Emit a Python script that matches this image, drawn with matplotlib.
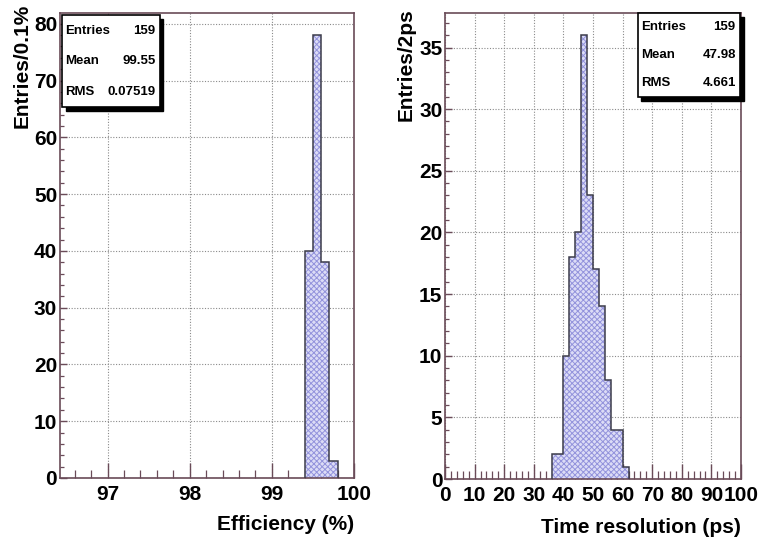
import matplotlib
matplotlib.use("Agg")
import matplotlib.pyplot as plt
from matplotlib.patches import Rectangle
from matplotlib.ticker import MultipleLocator

plt.rcParams['font.family'] = ['Liberation Sans', 'DejaVu Sans']
plt.rcParams['font.weight'] = 'bold'
plt.rcParams['hatch.linewidth'] = 0.7

# efficiency histogram, 0.1 % bins
eff_edges = [99.4, 99.5, 99.6, 99.7, 99.8]
eff_counts = [40, 78, 38, 3]
eff_stats = [("Entries", "159"), ("Mean", "99.55"), ("RMS", "0.07519")]

# time resolution histogram, 2 ps bins
tres_edges = [36, 38, 40, 42, 44, 46, 48, 50, 52, 54, 56, 58, 60, 62]
tres_counts = [2, 2, 10, 18, 20, 36, 23, 17, 14, 8, 4, 4, 1]
tres_stats = [("Entries", "159"), ("Mean", "47.98"), ("RMS", "4.661")]

frame_col = '#6a4b58'
grid_col = '#8a8a8a'
fill_col = '#dcdcf6'
hatch_col = '#9393dc'
line_col = '#3c3c4a'
tick_fs = 15
label_fs = 15
stat_fs = 9.5


def draw_hist(ax, edges, counts):
    ax.stairs(counts, edges, fill=True, facecolor=fill_col, edgecolor=hatch_col,
              hatch='xxxxxx', linewidth=0, zorder=2)
    ax.stairs(counts, edges, baseline=0, color=line_col, linewidth=1.1, zorder=3)


def stats_box(ax, x0, x1, y0, y1, rows):
    trans = ax.transAxes
    # shadow first, then the box itself
    ax.add_patch(Rectangle((x0 + 0.012, y0 - 0.008), x1 - x0, y1 - y0, transform=trans,
                           facecolor='black', edgecolor='black', clip_on=False, zorder=9))
    ax.add_patch(Rectangle((x0, y0), x1 - x0, y1 - y0, transform=trans,
                           facecolor='white', edgecolor='black', linewidth=1.2,
                           clip_on=False, zorder=10))
    n = len(rows)
    for i, (name, val) in enumerate(rows):
        yy = y1 - (i + 0.5) * (y1 - y0) / n
        ax.text(x0 + 0.012, yy, name, transform=trans, ha='left', va='center',
                fontsize=stat_fs, fontweight='bold', zorder=11)
        ax.text(x1 - 0.015, yy, val, transform=trans, ha='right', va='center',
                fontsize=stat_fs, fontweight='bold', zorder=11)


def style_axes(ax, xmajor, xminor, ymajor, yminor):
    ax.xaxis.set_major_locator(MultipleLocator(xmajor))
    ax.xaxis.set_minor_locator(MultipleLocator(xminor))
    ax.yaxis.set_major_locator(MultipleLocator(ymajor))
    ax.yaxis.set_minor_locator(MultipleLocator(yminor))
    ax.tick_params(axis='x', which='major', direction='in', length=11, width=1,
                   labelsize=tick_fs, pad=5, color=frame_col)
    ax.tick_params(axis='x', which='minor', direction='in', length=5.5, width=0.9,
                   color=frame_col)
    ax.tick_params(axis='y', which='major', direction='in', length=5, width=1,
                   labelsize=tick_fs, pad=2, color=frame_col)
    ax.tick_params(axis='y', which='minor', direction='in', length=3, width=0.9,
                   color=frame_col)
    for lab in ax.get_xticklabels() + ax.get_yticklabels():
        lab.set_fontweight('bold')
    for sp in ax.spines.values():
        sp.set_color(frame_col)
        sp.set_linewidth(1.2)
    ax.grid(True, which='major', linestyle=(0, (1, 1.5)), color=grid_col, linewidth=0.8)
    ax.set_axisbelow(True)


fig = plt.figure(figsize=(7.61, 5.39), dpi=100)
ax1 = fig.add_axes([0.0788, 0.1132, 0.3863, 0.8627])
ax2 = fig.add_axes([0.5848, 0.1113, 0.3889, 0.8646])

draw_hist(ax1, eff_edges, eff_counts)
ax1.set_xlim(96.42, 100)
ax1.set_ylim(0, 81.9)
style_axes(ax1, 1, 0.2, 10, 2)
ax1.set_xlabel("Efficiency (%)", fontsize=label_fs, fontweight='bold', loc='right')
ax1.xaxis.set_label_coords(1.0, -0.08)
ax1.set_ylabel("Entries/0.1%", fontsize=label_fs, fontweight='bold', loc='top')
ax1.yaxis.set_label_coords(-0.095, 1.02)
stats_box(ax1, 0.007, 0.34, 0.797, 0.995, eff_stats)

draw_hist(ax2, tres_edges, tres_counts)
ax2.set_xlim(0, 100)
ax2.set_ylim(0, 37.8)
style_axes(ax2, 10, 2, 5, 1)
ax2.set_xlabel("Time resolution (ps)", fontsize=label_fs, fontweight='bold', loc='right')
ax2.xaxis.set_label_coords(1.0, -0.084)
ax2.set_ylabel("Entries/2ps", fontsize=label_fs, fontweight='bold', loc='top')
ax2.yaxis.set_label_coords(-0.101, 1.01)
stats_box(ax2, 0.651, 0.997, 0.82, 1.0, tres_stats)

fig.savefig("out.png", dpi=100)
